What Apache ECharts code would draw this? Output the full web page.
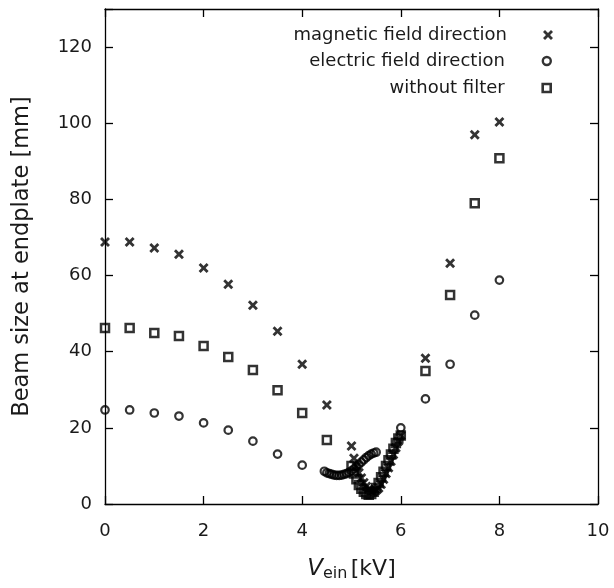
<!DOCTYPE html>
<html><head><meta charset="utf-8">
<script src="https://cdn.jsdelivr.net/npm/echarts@6/dist/echarts.min.js"></script>
<style>html,body{margin:0;padding:0;background:#fff}#c{width:614px;height:588px}</style>
</head><body><div id="c"></div>
<script>
const xTicks = [0, 2, 4, 6, 8, 10];
const yTicks = [0, 20, 40, 60, 80, 100, 120];

const magneticV = [0, 0.5, 1, 1.5, 2, 2.5, 3, 3.5, 4, 4.5, 5.0, 5.05, 5.1, 5.15, 5.2, 5.25, 5.3, 5.35, 5.4, 5.45, 5.5, 5.55, 5.6, 5.65, 5.7, 5.75, 5.8, 5.85, 5.9, 5.95, 6.0, 6.5, 7, 7.5, 8];
const magneticS = [68.8, 68.8, 67.2, 65.6, 62.0, 57.7, 52.2, 45.4, 36.7, 26.0, 15.2, 12.0, 10.0, 8.2, 6.8, 5.6, 4.6, 3.9, 3.4, 3.3, 3.6, 4.2, 5.2, 6.5, 8.0, 9.5, 11.2, 13.0, 14.8, 16.5, 18.0, 38.3, 63.2, 97.0, 100.3];

const electricV = [0, 0.5, 1, 1.5, 2, 2.5, 3, 3.5, 4, 4.45, 4.5, 4.55, 4.6, 4.65, 4.7, 4.75, 4.8, 4.85, 4.9, 4.95, 5.0, 5.05, 5.1, 5.15, 5.2, 5.25, 5.3, 5.35, 5.4, 5.45, 5.5, 6.0, 6.5, 7, 7.5, 8];
const electricS = [24.7, 24.7, 23.9, 23.1, 21.3, 19.4, 16.5, 13.1, 10.2, 8.6, 8.2, 8.0, 7.8, 7.6, 7.5, 7.5, 7.6, 7.8, 8.0, 8.3, 8.7, 9.2, 9.8, 10.4, 11.0, 11.6, 12.2, 12.7, 13.1, 13.4, 13.6, 20.0, 27.6, 36.7, 49.6, 58.8];

const noFilterV = [0, 0.5, 1, 1.5, 2, 2.5, 3, 3.5, 4, 4.5, 5.0, 5.05, 5.1, 5.15, 5.2, 5.25, 5.3, 5.35, 5.4, 5.45, 5.5, 5.55, 5.6, 5.65, 5.7, 5.75, 5.8, 5.85, 5.9, 5.95, 6.0, 6.5, 7, 7.5, 8];
const noFilterS = [46.2, 46.2, 44.9, 44.1, 41.5, 38.6, 35.2, 29.9, 23.9, 16.8, 10.0, 8.0, 6.5, 5.0, 4.0, 3.2, 2.6, 2.4, 2.6, 3.2, 4.2, 5.5, 7.0, 8.5, 10.0, 11.5, 13.0, 14.5, 16.0, 17.2, 18.0, 34.9, 54.9, 79.0, 90.8];

const names = ['magnetic field direction', 'electric field direction', 'without filter'];

const pairs = (a, b) => a.map((v, i) => [v, b[i]]);
const crossPath = 'path://M0,2L2,0L5,3L8,0L10,2L7,5L10,8L8,10L5,7L2,10L0,8L3,5Z';
const FONT = 'DejaVu Sans';
const txt = '#1a1a1a';

const chart = echarts.init(document.getElementById('c'), null, {renderer: 'canvas'});
const axisCommon = {
  axisLine: {show: true, onZero: false, lineStyle: {color: '#000', width: 1.3}},
  axisTick: {show: true, inside: true, length: 8, lineStyle: {color: '#000', width: 1.3}},
  splitLine: {show: false}
};
const legendCommon = {
  orient: 'vertical', right: 56, itemWidth: 10, itemHeight: 10, itemGap: 8, align: 'right',
  textStyle: {fontFamily: FONT, fontSize: 18, color: txt, padding: [0, 31, 0, 0]}, selectedMode: false
};
chart.setOption({
  animation: false,
  backgroundColor: '#fff',
  grid: {left: 105, right: 16, top: 9, bottom: 84},
  legend: [
    Object.assign({}, legendCommon, {top: 21, data: [{name: names[0], icon: crossPath, itemStyle: {color: '#000'}}]}),
    Object.assign({}, legendCommon, {top: 47, right: 57, itemWidth: 8, itemHeight: 8, textStyle: Object.assign({}, legendCommon.textStyle, {padding: [0, 33, 0, 0]}),
      data: [{name: names[1], icon: 'circle', itemStyle: {color: 'rgba(255,255,255,0)', borderColor: '#000', borderWidth: 2.4}}]}),
    Object.assign({}, legendCommon, {top: 74, right: 57, itemWidth: 8, itemHeight: 8, textStyle: Object.assign({}, legendCommon.textStyle, {padding: [0, 33, 0, 0]}),
      data: [{name: names[2], icon: 'rect', itemStyle: {color: 'rgba(255,255,255,0)', borderColor: '#000', borderWidth: 2.6}}]})
  ],
  xAxis: [
    Object.assign({}, axisCommon, {
      type: 'value', min: 0, max: 10, interval: 2, position: 'bottom',
      axisLabel: {fontFamily: FONT, fontSize: 18, color: txt, margin: 18},
      name: '{v|V}{s|ein} {u|[kV]}', nameLocation: 'middle', nameGap: 53,
      nameTextStyle: {rich: {
        v: {fontFamily: FONT, fontSize: 23, fontStyle: 'italic', color: txt},
        s: {fontFamily: FONT, fontSize: 16, color: txt, verticalAlign: 'bottom', padding: [9, 0, 0, 0]},
        u: {fontFamily: FONT, fontSize: 22, color: txt}
      }}
    }),
    Object.assign({}, axisCommon, {
      type: 'value', min: 0, max: 10, interval: 2, position: 'top', axisLabel: {show: false}
    })
  ],
  yAxis: [
    Object.assign({}, axisCommon, {
      type: 'value', min: 0, max: 130, interval: 20, position: 'left',
      axisLabel: {fontFamily: FONT, fontSize: 18, color: txt, margin: 13,
        formatter: v => (v > 120 ? '' : v)},
      name: 'Beam size at endplate [mm]', nameLocation: 'middle', nameGap: 71, nameRotate: 90,
      nameTextStyle: {fontFamily: FONT, fontSize: 22.5, color: txt}
    }),
    Object.assign({}, axisCommon, {
      type: 'value', min: 0, max: 130, interval: 20, position: 'right', axisLabel: {show: false}
    })
  ],
  series: [
    {name: names[0], type: 'scatter', data: pairs(magneticV, magneticS), symbol: crossPath, symbolSize: 10,
      itemStyle: {color: '#000'}},
    {name: names[1], type: 'scatter', data: pairs(electricV, electricS), symbol: 'circle', symbolSize: 7.5,
      itemStyle: {color: 'rgba(255,255,255,0)', borderColor: '#000', borderWidth: 2.2}},
    {name: names[2], type: 'scatter', data: pairs(noFilterV, noFilterS), symbol: 'rect', symbolSize: 8,
      itemStyle: {color: 'rgba(255,255,255,0)', borderColor: '#000', borderWidth: 2.5}}
  ]
});
</script></body></html>
